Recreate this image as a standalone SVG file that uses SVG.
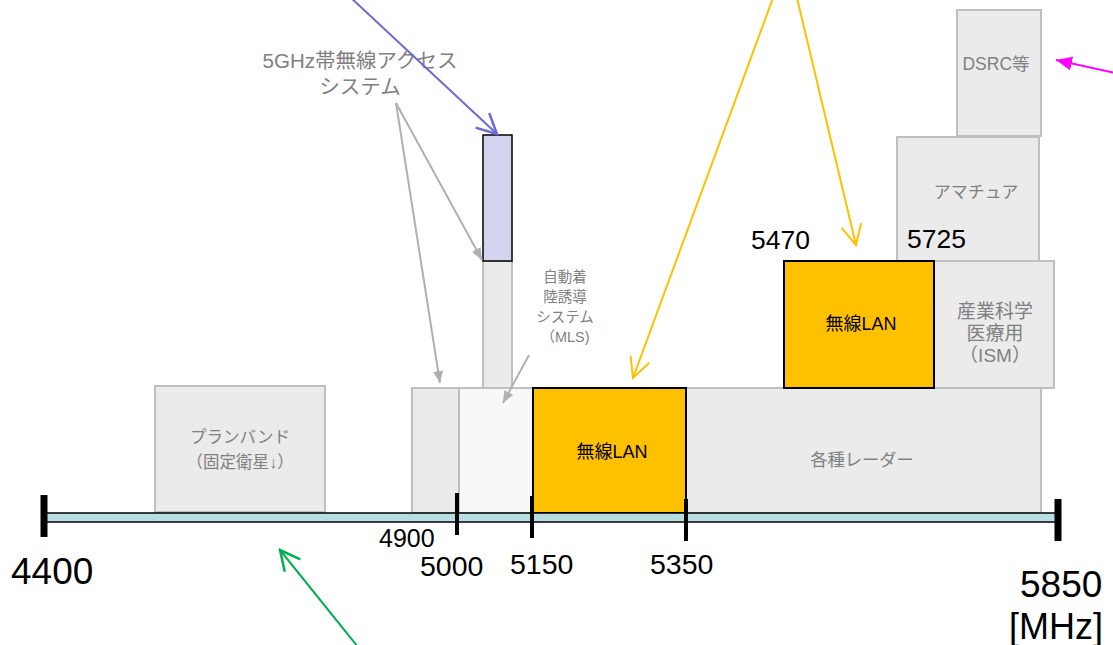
<svg xmlns="http://www.w3.org/2000/svg" width="1113" height="645" viewBox="0 0 1113 645">
<defs>
<style>
.band{fill:#ebebeb;stroke:#bfbfbf;stroke-width:2}
.lan{fill:#ffc000;stroke:#000;stroke-width:2}
.gt{font-family:"Liberation Sans","Noto Sans CJK JP",sans-serif;fill:#808080;text-anchor:middle}
.bt{font-family:"Liberation Sans","Noto Sans CJK JP",sans-serif;fill:#000;text-anchor:middle}
.num{font-family:"Liberation Sans","Noto Sans CJK JP",sans-serif;fill:#000}
.tick{stroke:#000}
</style>
<marker id="openYL" viewBox="0 0 24 24" refX="22" refY="12" markerWidth="24" markerHeight="24" markerUnits="userSpaceOnUse" orient="auto"><path d="M2,2 L22,12 L2,22" fill="none" stroke="#ffc000" stroke-width="2"/></marker>
<marker id="openB" viewBox="0 0 24 24" refX="22" refY="12" markerWidth="24" markerHeight="24" markerUnits="userSpaceOnUse" orient="auto"><path d="M2,2 L22,12 L2,22" fill="none" stroke="#6b6bd6" stroke-width="2.5"/></marker>
<marker id="openG" viewBox="0 0 24 24" refX="22" refY="12" markerWidth="24" markerHeight="24" markerUnits="userSpaceOnUse" orient="auto"><path d="M2,2 L22,12 L2,22" fill="none" stroke="#00b050" stroke-width="2.5"/></marker>
<marker id="fillGr" viewBox="0 0 12 10" refX="12" refY="5" markerWidth="12" markerHeight="10" markerUnits="userSpaceOnUse" orient="auto"><path d="M0,0 L12,5 L0,10 Z" fill="#b0b0b0"/></marker>
<marker id="fillM" viewBox="0 0 16 14" refX="16" refY="7" markerWidth="16" markerHeight="14" markerUnits="userSpaceOnUse" orient="auto"><path d="M0,0 L16,7 L0,14 Z" fill="#ff00ff"/></marker>
</defs>
<rect width="1113" height="645" fill="#fff"/>

<g id="planband"><rect class="band" x="155" y="386" width="170" height="126"/>
<text class="gt" font-size="16.5" x="240" y="443">プランバンド</text>
<text class="gt" font-size="16.5" x="240" y="468">（固定衛星↓）</text></g>

<g id="band4900"><rect class="band" x="412" y="388" width="47" height="125"/></g>
<g id="mls"><rect x="459" y="388" width="74" height="125" fill="#f8f8f8" stroke="#bfbfbf" stroke-width="2"/></g>
<g id="column"><rect class="band" x="483" y="261" width="29" height="127"/></g>
<g id="access5g"><rect x="483" y="135" width="29" height="126" fill="#d4d4ee" stroke="#000" stroke-width="1.5"/></g>

<g id="radar"><rect class="band" x="686" y="388" width="355" height="125"/>
<text class="gt" font-size="17.3" x="862" y="466">各種レーダー</text></g>
<g id="amateur"><rect class="band" x="897" y="137" width="142" height="124"/>
<text class="gt" font-size="17" x="976" y="198">アマチュア</text></g>
<g id="dsrc"><rect class="band" x="957" y="10" width="84" height="126"/>
<text class="gt" font-size="17.5" x="996" y="70">DSRC等</text></g>
<g id="ism"><rect class="band" x="934" y="261" width="120" height="127"/>
<text class="gt" font-size="19" x="995" y="318">産業科学</text>
<text class="gt" font-size="19" x="995" y="340">医療用</text>
<text class="gt" font-size="19" x="995" y="362">（ISM）</text></g>

<g id="wlan1"><rect class="lan" x="533" y="388" width="153" height="125"/>
<text class="bt" font-size="18" x="612" y="458">無線LAN</text></g>
<g id="wlan2"><rect class="lan" x="784" y="261" width="150" height="127"/>
<text class="bt" font-size="18" x="861" y="330">無線LAN</text></g>

<g id="axis">
<rect x="45" y="513" width="1013" height="9" fill="#b7dde0" stroke="#000" stroke-width="1.5"/>
<line class="tick" x1="44" y1="495" x2="44" y2="537" stroke-width="7"/>
<line class="tick" x1="457" y1="493" x2="457" y2="535" stroke-width="4"/>
<line class="tick" x1="532" y1="496" x2="532" y2="538" stroke-width="4"/>
<line class="tick" x1="686" y1="499" x2="686" y2="541" stroke-width="4"/>
<line class="tick" x1="1058" y1="499" x2="1058" y2="541" stroke-width="7"/>
</g>

<g id="labels">
<text class="num" font-size="37" x="11" y="584">4400</text>
<text class="num" font-size="25" x="379" y="547">4900</text>
<text class="num" font-size="28.5" x="420" y="576">5000</text>
<text class="num" font-size="28.5" x="510" y="574">5150</text>
<text class="num" font-size="28.5" x="650" y="574">5350</text>
<text class="num" font-size="37" x="1020" y="597">5850</text>
<text class="num" font-size="36" x="1009" y="639">[MHz]</text>
<text class="num" font-size="26.5" x="751" y="249">5470</text>
<text class="num" font-size="26.5" x="907" y="248">5725</text>
<text class="gt" font-size="20.5" x="360" y="68">5GHz帯無線アクセス</text>
<text class="gt" font-size="20.5" x="360" y="94">システム</text>
<text class="gt" font-size="14.5" x="565" y="282">自動着</text>
<text class="gt" font-size="14.5" x="565" y="302">陸誘導</text>
<text class="gt" font-size="14.5" x="565" y="322">システム</text>
<text class="gt" font-size="14.5" x="565" y="342">（MLS)</text>
</g>

<g id="connectors" fill="none">
<line x1="349" y1="-4" x2="497" y2="134" stroke="#6b6bd6" stroke-width="2" marker-end="url(#openB)"/>
<line x1="396" y1="103" x2="440" y2="383" stroke="#b0b0b0" stroke-width="2" marker-end="url(#fillGr)"/>
<line x1="396" y1="103" x2="482" y2="260" stroke="#b0b0b0" stroke-width="2" marker-end="url(#fillGr)"/>
<line x1="529" y1="355" x2="503" y2="403" stroke="#b0b0b0" stroke-width="2" marker-end="url(#fillGr)"/>
<line x1="773" y1="-2" x2="633" y2="378" stroke="#ffc000" stroke-width="2" marker-end="url(#openYL)"/>
<line x1="797" y1="-2" x2="856" y2="245" stroke="#ffc000" stroke-width="2" marker-end="url(#openYL)"/>
<line x1="358" y1="647" x2="280" y2="550" stroke="#00b050" stroke-width="2" marker-end="url(#openG)"/>
<line x1="1115" y1="73" x2="1056" y2="60" stroke="#ff00ff" stroke-width="2" marker-end="url(#fillM)"/>
</g>
</svg>
